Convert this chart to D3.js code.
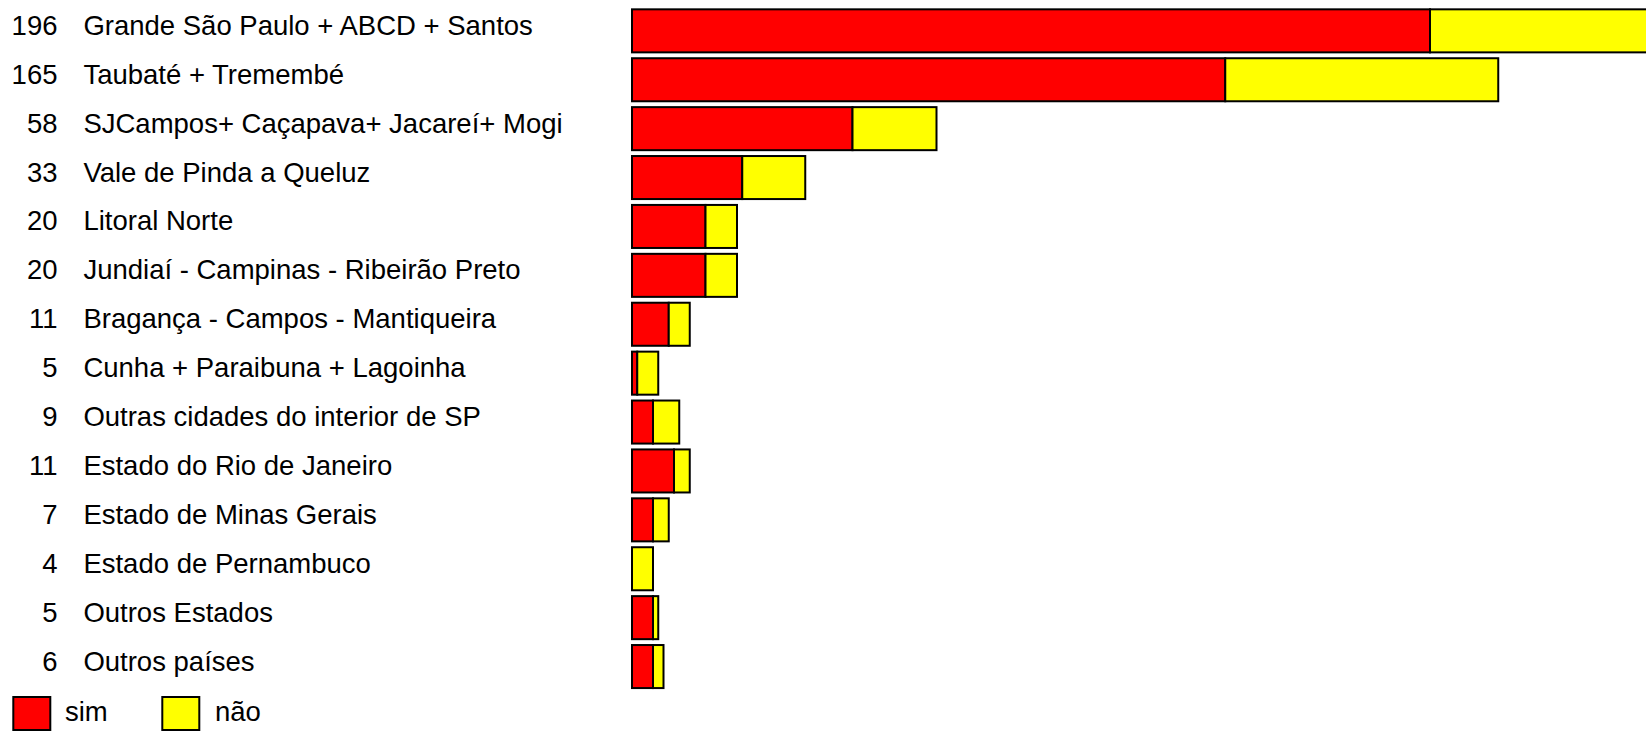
<!DOCTYPE html>
<html>
<head>
<meta charset="utf-8">
<script src="https://cdn.jsdelivr.net/npm/d3@7"></script>
<style>
  html, body { margin: 0; padding: 0; background: #fff; overflow: hidden; }
  svg { display: block; }
  text { font-family: "Liberation Sans", Arial, sans-serif; fill: #000; }
</style>
</head>
<body>
<svg id="chart" width="1646" height="731"></svg>
<script>
const categories = [
  "Grande São Paulo + ABCD + Santos",
  "Taubaté + Tremembé",
  "SJCampos+ Caçapava+ Jacareí+ Mogi",
  "Vale de Pinda a Queluz",
  "Litoral Norte",
  "Jundiaí - Campinas - Ribeirão Preto",
  "Bragança - Campos - Mantiqueira",
  "Cunha + Paraibuna + Lagoinha",
  "Outras cidades do interior de SP",
  "Estado do Rio de Janeiro",
  "Estado de Minas Gerais",
  "Estado de Pernambuco",
  "Outros Estados",
  "Outros países"
];
const totals = [196, 165, 58, 33, 20, 20, 11, 5, 9, 11, 7, 4, 5, 6];
const sim    = [152, 113, 42, 21, 14, 14, 7, 1, 4, 8, 4, 0, 4, 4];
const nao    = [44, 52, 16, 12, 6, 6, 4, 4, 5, 3, 3, 4, 1, 2];
const seriesNames = ["sim", "não"];
const seriesColors = ["#FF0000", "#FFFF00"];

const svg = d3.select("#chart");
const fontSize = 27.5;

const x = d3.scaleLinear().domain([0, 200]).range([632, 1682]);
const y = d3.scaleBand().domain(categories).range([6.4, 691]).paddingInner(0.12).paddingOuter(0.06);

const rows = categories.map((c, i) => ({ cat: c, total: totals[i], vals: [sim[i], nao[i]] }));

const stack = d3.stack().keys([0, 1]).value((d, k) => d.vals[k]);
const layers = stack(rows);

const g = svg.append("g");
layers.forEach((layer, k) => {
  g.selectAll(null).data(layer).enter().append("rect")
    .attr("x", d => x(d[0]))
    .attr("y", d => y(d.data.cat))
    .attr("width", d => Math.max(0, x(d[1]) - x(d[0])))
    .attr("height", y.bandwidth())
    .attr("fill", seriesColors[k])
    .attr("stroke", "#000")
    .attr("stroke-width", 2);
});

// labels
const lab = svg.append("g").style("font-size", fontSize + "px");
rows.forEach(r => {
  const cy = y(r.cat) + y.bandwidth() / 2 + 4;
  lab.append("text").attr("x", 57.5).attr("y", cy).attr("text-anchor", "end").text(r.total);
  lab.append("text").attr("x", 83.4).attr("y", cy).text(r.cat);
});

// legend
const legX = [13.3, 162.3];
const legTX = [65, 215];
seriesNames.forEach((n, k) => {
  svg.append("rect").attr("x", legX[k]).attr("y", 697).attr("width", 37).attr("height", 33)
    .attr("fill", seriesColors[k]).attr("stroke", "#000").attr("stroke-width", 2);
  svg.append("text").attr("x", legTX[k]).attr("y", 721).style("font-size", fontSize + "px").text(n);
});
</script>
</body>
</html>
